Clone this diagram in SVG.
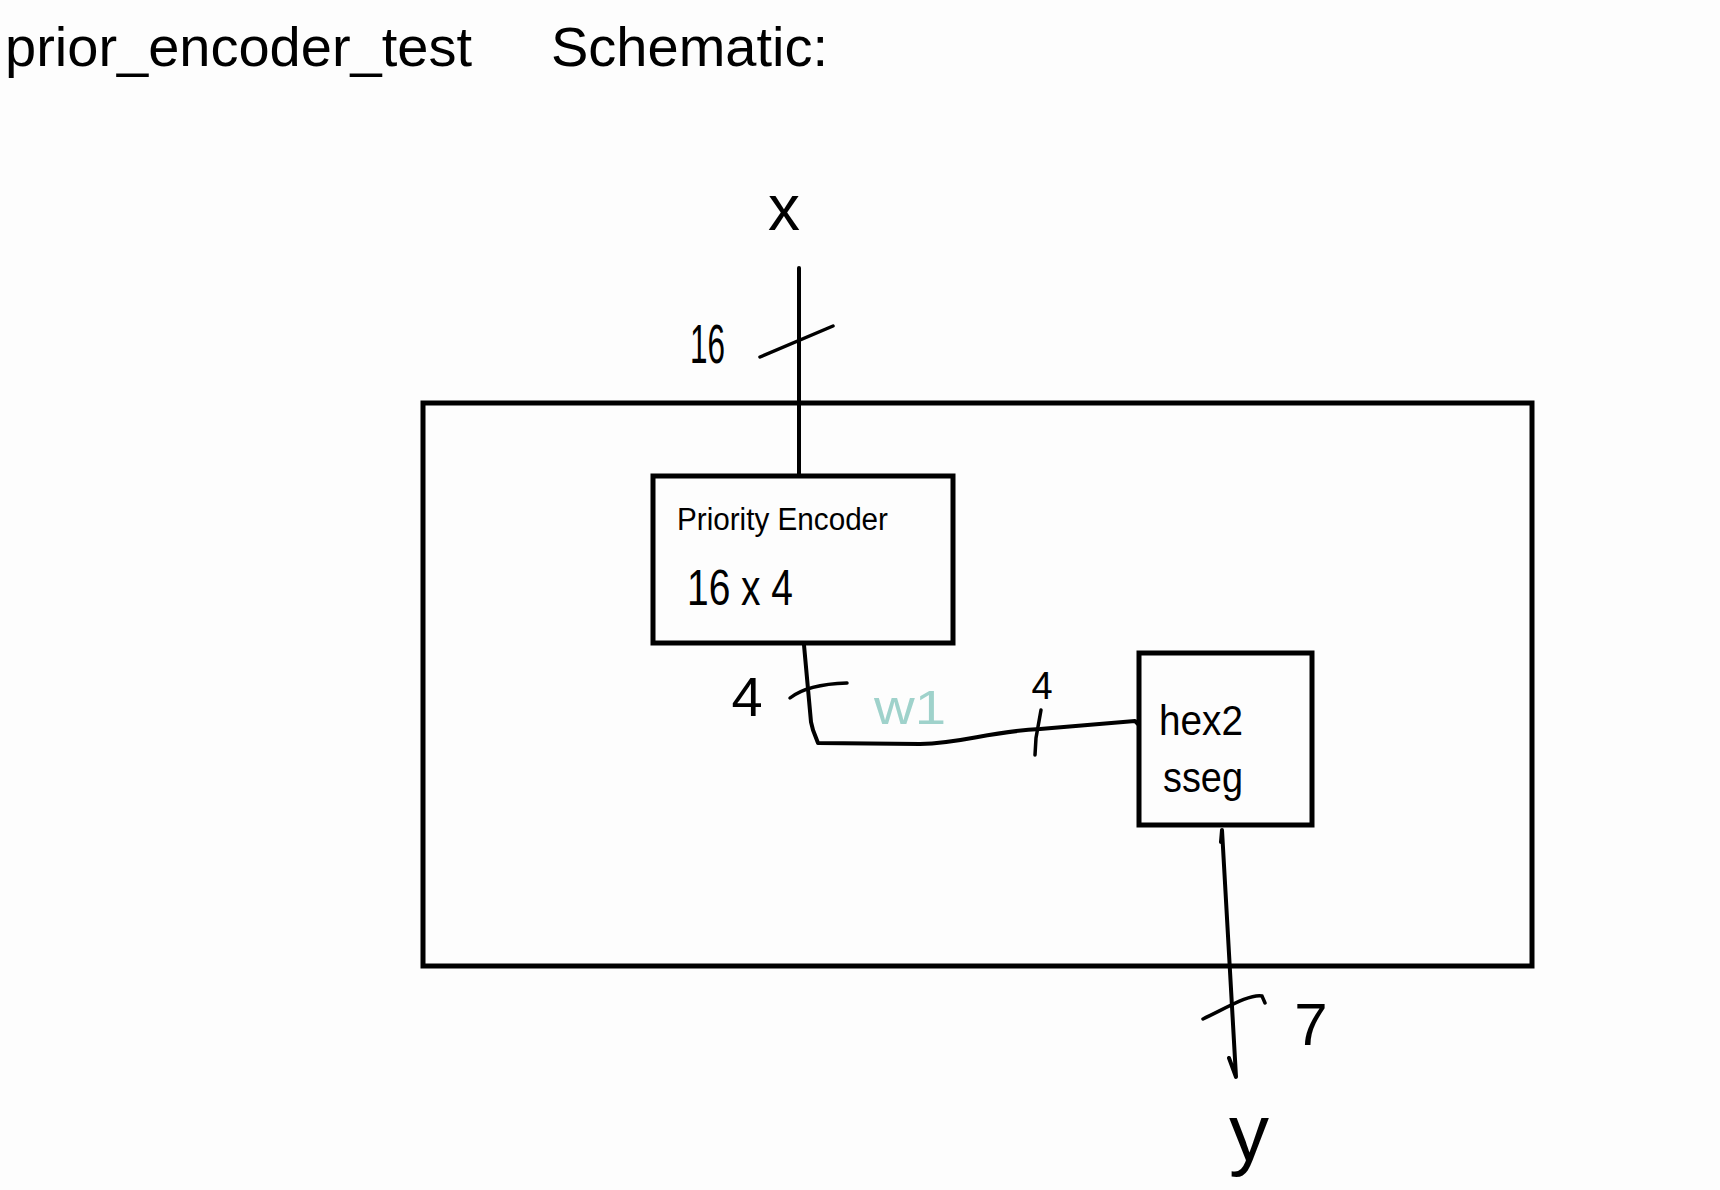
<svg xmlns="http://www.w3.org/2000/svg" width="1720" height="1190" viewBox="0 0 1720 1190">
<style>
.t{font-family:"Liberation Sans","DejaVu Sans",sans-serif;fill:#000}
.box{fill:none;stroke:#000;stroke-width:5}
.w{fill:none;stroke:#000;stroke-width:4;stroke-linecap:round;stroke-linejoin:round}
.tick{fill:none;stroke:#000;stroke-width:3.5;stroke-linecap:round}
</style>
<rect x="0" y="0" width="1720" height="1190" fill="#fdfdfd"/>
<text class="t" font-size="56" y="66"><tspan x="5">prior_encoder_test</tspan><tspan x="551">Schematic:</tspan></text>

<g id="top">
  <rect class="box" x="423" y="403" width="1109" height="563"/>
</g>

<g id="priority_encoder">
  <rect class="box" x="653" y="476" width="300" height="167"/>
  <text class="t" x="677" y="530" font-size="31" textLength="211" lengthAdjust="spacingAndGlyphs">Priority Encoder</text>
  <text class="t" x="687" y="605" font-size="50" textLength="106" lengthAdjust="spacingAndGlyphs">16 x 4</text>
</g>

<g id="hex2sseg">
  <rect class="box" x="1139" y="653" width="173" height="172"/>
  <text class="t" x="1159" y="735" font-size="42" textLength="84" lengthAdjust="spacingAndGlyphs">hex2</text>
  <text class="t" x="1163" y="792" font-size="42" textLength="80" lengthAdjust="spacingAndGlyphs">sseg</text>
</g>

<g id="connectors">
  <path class="w" d="M799,268 L799,476"/>
  <path class="tick" d="M760,357 L833,326"/>
  <path class="w" stroke-width="3.5" d="M804,645 L811,722 L813,730 L818,743 L920,744 C965,743 985,732 1040,729 L1135,721 L1138,724"/>
  <path class="tick" d="M790,698 C800,690 815,684 847,683"/>
  <path class="tick" d="M1041,710 L1036,738 L1035,755"/>
  <path class="w" d="M1221,842 L1222,830 L1236,1077 L1229,1058"/>
  <path class="tick" d="M1203,1019 C1230,1006 1250,994 1262,996 L1265,1003"/>
</g>

<g id="labels">
  <text class="t" x="784" y="230" font-size="64" text-anchor="middle">x</text>
  <text class="t" x="690" y="363" font-size="56" textLength="35" lengthAdjust="spacingAndGlyphs">16</text>
  <text class="t" x="747" y="716" font-size="56" text-anchor="middle">4</text>
  <text class="t" x="874" y="724" font-size="48" textLength="72" lengthAdjust="spacingAndGlyphs" style="fill:#9fd2cb">w1</text>
  <text class="t" x="1042" y="699" font-size="38" text-anchor="middle">4</text>
  <text class="t" x="1311" y="1045" font-size="60" text-anchor="middle">7</text>
  <text class="t" x="1249" y="1160" font-size="80" text-anchor="middle">y</text>
</g>
</svg>
